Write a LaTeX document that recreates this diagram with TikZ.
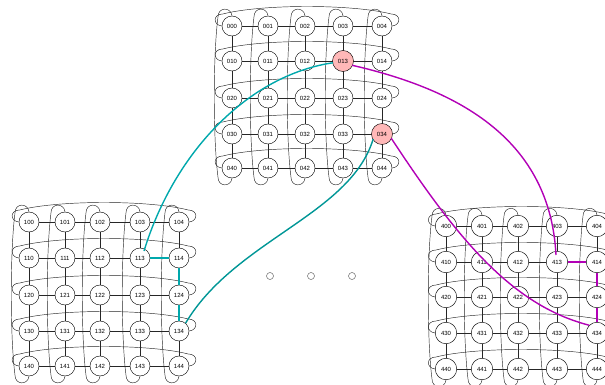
\documentclass[tikz,border=0pt]{standalone}
\usepackage{fontspec}
\setmainfont{Liberation Sans}
\usetikzlibrary{calc,backgrounds}
\definecolor{tealA}{RGB}{0,168,172}
\definecolor{tealB}{RGB}{0,150,150}
\definecolor{magA}{RGB}{178,0,182}
\definecolor{pinkA}{RGB}{255,184,184}
\tikzset{
  cell/.style={circle,draw=black,line width=0.45pt,inner sep=0pt,fill=white,font=\fontsize{6}{7}\selectfont},
  hot/.style={fill=pinkA},
  link/.style={draw=black!85,line width=0.45pt},
  wrap/.style={draw=black!85,line width=0.45pt},
  route/.style={line width=1.4pt},
  dot/.style={circle,draw=black!60,line width=0.5pt,minimum size=7pt,inner sep=0pt},
}
\newcommand\mkgrid[4]{%
  \foreach \x [count=\c from 0] in {#2} {
    \foreach \y [count=\r from 0] in {#3} {
      \node[cell,minimum size=#4] (n#1\r\c) at (\x,\y) {#1\r\c};
    }
  }
  \begin{pgfonlayer}{background}
  \foreach \r in {0,...,4} {
    \foreach \c [evaluate=\c as \d using int(\c+1)] in {0,...,3} {
      \draw[link] (n#1\r\c) -- (n#1\r\d);
      \draw[link] (n#1\c\r) -- (n#1\d\r);
    }
    \draw[wrap] (n#1\r0.west) .. controls ($(n#1\r0.west)+(-9,-1)$) and ($(n#1\r0.west)+(-9,-12)$) .. ($(n#1\r0.west)+(1,-12)$)
      .. controls ($(n#1\r0.west)+(40,-22)$) and ($(n#1\r4.east)+(-40,-22)$) .. ($(n#1\r4.east)+(-1,-12)$)
      .. controls ($(n#1\r4.east)+(9,-12)$) and ($(n#1\r4.east)+(9,-1)$) .. (n#1\r4.east);
    \draw[wrap] (n#10\r.north) .. controls ($(n#10\r.north)+(-1,-9)$) and ($(n#10\r.north)+(-14,-9)$) .. ($(n#10\r.north)+(-14,1)$)
      .. controls ($(n#10\r.north)+(-19,40)$) and ($(n#14\r.south)+(-19,-40)$) .. ($(n#14\r.south)+(-14,-1)$)
      .. controls ($(n#14\r.south)+(-14,9)$) and ($(n#14\r.south)+(-1,9)$) .. (n#14\r.south);
  }
  \end{pgfonlayer}
}
\begin{document}
\begin{tikzpicture}[x=1pt,y=-1pt]
\useasboundingbox (0,0) rectangle (605,385);
\mkgrid{0}{232,268,305,343,382}{26,61,98,134,168}{20pt}
\mkgrid{1}{29,65,100,140,179}{222,258,295,331,366}{20pt}
\mkgrid{4}{446,482,518,557,597}{226,262,297,333,369}{21.5pt}
\node[cell,hot,minimum size=21pt] at (n013) {013};
\node[cell,hot,minimum size=21pt] at (n034) {034};
% three dots
\node[dot] (d1) at (270,276) {};
\node[dot] (d2) at (311,276) {};
\node[dot] (d3) at (352,276) {};
% teal route
\draw[route,tealA] (n013.190) .. controls (250,75) and (175,150) .. ($(n113)+(4,-7)$);
\draw[route,tealA] (n113) -- (n114);
\draw[route,tealA] (n114) -- (n124);
\draw[route,tealA] (n124) -- (n134);
\draw[route,tealB] (n134.50) .. controls (235,240) and (350,215) .. (n034.210);
% magenta route
\draw[route,magA] (n013.-25) .. controls (460,90) and (550,140) .. ($(n413)+(-1,-7)$);
\draw[route,magA] (n413) -- (n414);
\draw[route,magA] (n414) -- (n424);
\draw[route,magA] (n424) -- (n434);
\draw[route,magA] (n034.-25) .. controls (455,235) and (510,305) .. (n434.135);
\end{tikzpicture}
\end{document}
